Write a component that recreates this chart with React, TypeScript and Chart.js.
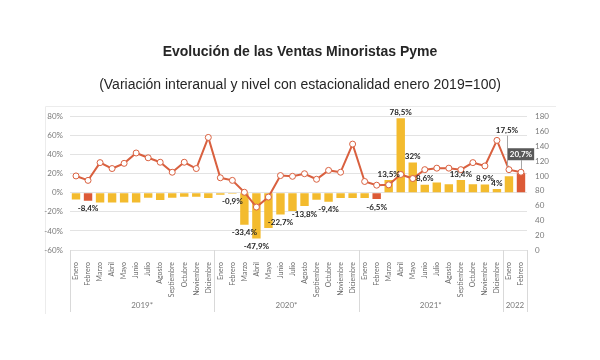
import React, { useEffect, useRef } from "react";
import { Chart, registerables } from "chart.js";

Chart.register(...registerables);

const months = ["Enero", "Febrero", "Marzo", "Abril", "Mayo", "Junio", "Julio", "Agosto", "Septiembre", "Octubre", "Noviembre", "Diciembre"];
const categories = [...months, ...months, ...months, "Enero", "Febrero"];
const years = ["2019*", "2020*", "2021*", "2022"];
const yearSpans = [12, 12, 12, 2];

// Variación interanual (%)
const variation = [
  -7, -8.4, -10, -10, -10, -10, -5, -7.5, -5, -4, -4, -5.5,
  -2, -0.9, -33.4, -47.9, -37, -22.7, -19, -13.8, -7.3, -9.4, -5.5, -5.5,
  -5.5, -6.5, 13.5, 78.5, 32, 8.6, 11, 9, 13.4, 9, 8.9, 4,
  17.5, 20.7,
];

// Nivel con estacionalidad (enero 2019 = 100)
const level = [
  100, 94, 118, 110, 117, 131, 124.5, 118.5, 105, 118.5, 110, 152,
  97.5, 94, 78, 58, 71.5, 100.5, 99.5, 103, 95.5, 107.5, 105, 143,
  92.5, 87.5, 88, 102, 96.5, 108.5, 110.5, 110.5, 108.5, 118, 113.5, 148,
  108.5, 105,
];

const highlighted = [1, 25, 37];
const labelled = [1, 13, 14, 15, 17, 19, 21, 25, 26, 27, 28, 29, 32, 34, 35, 36, 37];

const leftTicks = { min: -60, max: 80, step: 20 };
const rightTicks = { min: 0, max: 180, step: 20 };

const GOLD = "#F3BB2E";
const RED = "#DC5A36";
const LINE = "#D9603F";

const fmt = (v: number) => String(v).replace(".", ",") + "%";

const decorPlugin = {
  id: "decor",
  beforeDraw(chart: any) {
    const ctx = chart.ctx;
    ctx.save();
    ctx.strokeStyle = "#ececec";
    ctx.lineWidth = 1;
    ctx.beginPath();
    ctx.moveTo(45.5, 314);
    ctx.lineTo(45.5, 106.5);
    ctx.lineTo(556, 106.5);
    ctx.stroke();
    ctx.restore();
  },
  afterDatasetsDraw(chart: any) {
    const ctx = chart.ctx;
    const bars = chart.getDatasetMeta(1).data;
    const pts = chart.getDatasetMeta(0).data;
    ctx.save();
    ctx.font = "bold 8px Lato, 'Liberation Sans', sans-serif";
    ctx.textAlign = "center";
    ctx.textBaseline = "middle";
    labelled.forEach((i) => {
      const v = variation[i];
      const b = bars[i];
      const text = fmt(v);
      if (i === categories.length - 2) {
        const ly = pts[i].y - 39;
        ctx.strokeStyle = "#a6a6a6";
        ctx.lineWidth = 1;
        ctx.beginPath();
        ctx.moveTo(Math.round(b.x) - 1.5, ly + 5);
        ctx.lineTo(Math.round(b.x) - 1.5, pts[i].y - 3);
        ctx.stroke();
        ctx.fillStyle = "#262626";
        ctx.fillText(text, b.x - 2, ly);
        return;
      }
      if (i === categories.length - 1) {
        const ly = pts[i].y - 18;
        ctx.strokeStyle = "#a6a6a6";
        ctx.lineWidth = 1;
        ctx.beginPath();
        ctx.moveTo(Math.round(b.x) + 0.5, ly + 6);
        ctx.lineTo(Math.round(b.x) + 0.5, pts[i].y - 3);
        ctx.stroke();
        const w = ctx.measureText(text).width + 4;
        ctx.fillStyle = "#595959";
        ctx.fillRect(b.x - w / 2, ly - 6, w, 12);
        ctx.fillStyle = "#ffffff";
        ctx.fillText(text, b.x, ly);
        return;
      }
      ctx.fillStyle = "#262626";
      const y = v < 0 ? b.y + 8 : b.y - 6;
      ctx.fillText(text, b.x, y);
    });
    ctx.restore();
  },
  afterDraw(chart: any) {
    const ctx = chart.ctx;
    const xs = chart.scales.x;
    const bottom = chart.chartArea.bottom;
    const half = (xs.getPixelForValue(1) - xs.getPixelForValue(0)) / 2;
    ctx.save();
    ctx.strokeStyle = "#d9d9d9";
    ctx.lineWidth = 1;
    ctx.fillStyle = "#7a7a7a";
    ctx.font = "8px Lato, 'Liberation Sans', sans-serif";
    ctx.textAlign = "center";
    ctx.textBaseline = "middle";
    let start = 0;
    years.forEach((yr, k) => {
      const end = start + yearSpans[k];
      const x0 = xs.getPixelForValue(start) - half;
      const x1 = xs.getPixelForValue(end - 1) + half;
      ctx.beginPath();
      ctx.moveTo(Math.round(x0) + 0.5, bottom);
      ctx.lineTo(Math.round(x0) + 0.5, bottom + 62);
      if (k === years.length - 1) {
        ctx.moveTo(Math.round(x1) + 0.5, bottom);
        ctx.lineTo(Math.round(x1) + 0.5, bottom + 62);
      }
      ctx.stroke();
      ctx.fillText(yr, (x0 + x1) / 2, bottom + 55);
      start = end;
    });
    ctx.restore();
  },
};

export default function App() {
  const ref = useRef<HTMLCanvasElement | null>(null);

  useEffect(() => {
    document.body.style.margin = "0";
    const canvas = ref.current;
    if (!canvas) return;
    const tickFont = { family: "Lato, 'Liberation Sans', sans-serif", size: 8 };
    const chart = new Chart(canvas, {
      type: "bar",
      data: {
        labels: categories,
        datasets: [
          {
            type: "line",
            label: "Nivel",
            data: level,
            yAxisID: "y1",
            borderColor: LINE,
            borderWidth: 2,
            pointRadius: 3,
            pointBorderWidth: 1,
            pointBackgroundColor: "#ffffff",
            pointBorderColor: LINE,
            tension: 0,
            order: 0,
          } as any,
          {
            type: "bar",
            label: "Variación interanual",
            data: variation,
            yAxisID: "y",
            backgroundColor: variation.map((_, i) => (highlighted.includes(i) ? RED : GOLD)),
            barPercentage: 0.7,
            categoryPercentage: 1,
            order: 1,
          },
        ],
      },
      options: {
        responsive: false,
        animation: false,
        devicePixelRatio: 1,
        layout: { padding: 0 },
        plugins: {
          legend: { display: false },
          tooltip: { enabled: false },
          title: {
            display: true,
            text: "Evolución de las Ventas Minoristas Pyme",
            color: "#262626",
            font: { family: "'Liberation Sans', Arial, sans-serif", size: 14, weight: "bold" },
            padding: { top: 43.6, bottom: 0 },
          },
          subtitle: {
            display: true,
            text: "(Variación interanual y nivel con estacionalidad enero 2019=100)",
            color: "#262626",
            font: { family: "'Liberation Sans', Arial, sans-serif", size: 14 },
            padding: { top: 16.2, bottom: 23.3 },
          },
        },
        scales: {
          x: {
            offset: true,
            grid: { display: false },
            border: { display: false },
            ticks: {
              autoSkip: false,
              minRotation: 90,
              maxRotation: 90,
              padding: 4,
              color: "#6b6b6b",
              font: { family: "Lato, 'Liberation Sans', sans-serif", size: 7 },
            },
            afterFit(s: any) {
              s.height = 110;
            },
          },
          y: {
            position: "left",
            min: leftTicks.min,
            max: leftTicks.max,
            ticks: {
              stepSize: leftTicks.step,
              padding: 7,
              color: "#7a7a7a",
              font: tickFont,
              callback: (v: any) => v + "%",
            },
            grid: { color: "#e3e3e3", drawTicks: false },
            border: { display: false },
            afterFit(s: any) {
              s.width = 70;
            },
          },
          y1: {
            position: "right",
            min: rightTicks.min,
            max: rightTicks.max,
            ticks: { stepSize: rightTicks.step, padding: 8, color: "#7a7a7a", font: tickFont },
            grid: { display: false, drawTicks: false },
            border: { display: false },
            afterFit(s: any) {
              s.width = 73;
            },
          },
        },
      },
      plugins: [decorPlugin],
    });
    return () => chart.destroy();
  }, []);

  return (
    <div style={{ width: 600, height: 360, background: "#ffffff" }}>
      <canvas ref={ref} width={600} height={360} />
    </div>
  );
}
